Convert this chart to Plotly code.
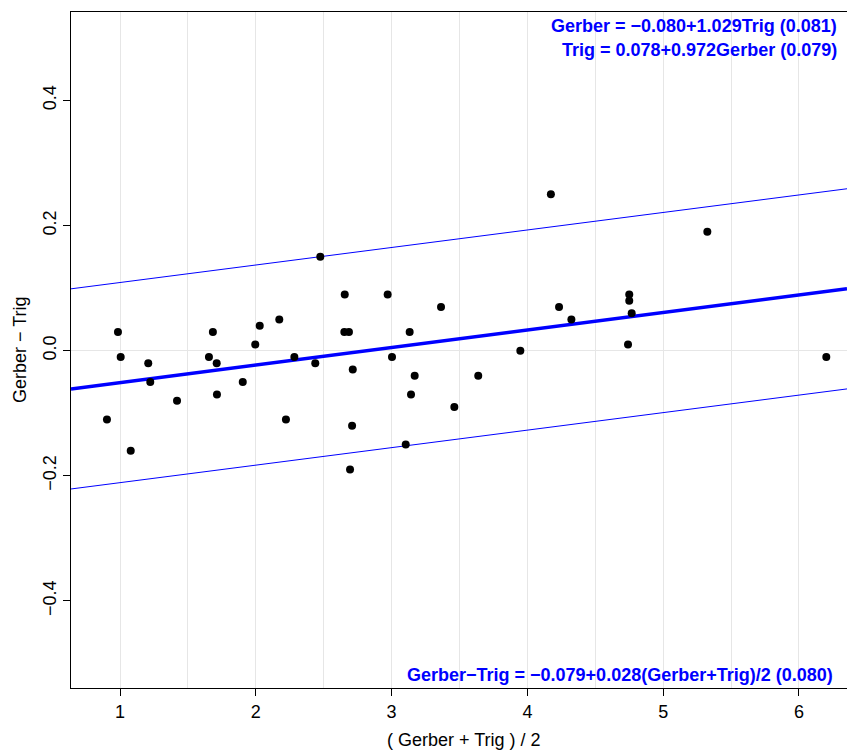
import plotly.graph_objects as go

# Mean of methods (x) and difference (y)
mean_vals = [0.904, 0.985, 1.005, 1.079, 1.208, 1.223, 1.420, 1.655, 1.684, 1.712,
             1.714, 1.904, 1.996, 2.029, 2.173, 2.222, 2.284, 2.438, 2.475, 2.655,
             2.652, 2.686, 2.694, 2.714, 2.709, 2.971, 3.003, 3.104, 3.133, 3.143,
             3.170, 3.364, 3.462, 3.638, 3.948, 4.173, 4.233, 4.324, 4.741, 4.750,
             4.750, 4.768, 5.325, 6.201]
diff_vals = [-0.11, 0.03, -0.01, -0.16, -0.02, -0.05, -0.08, -0.01, 0.03, -0.02,
             -0.07, -0.05, 0.01, 0.04, 0.05, -0.11, -0.01, -0.02, 0.15, 0.09,
             0.03, 0.03, -0.19, -0.03, -0.12, 0.09, -0.01, -0.15, 0.03, -0.07,
             -0.04, 0.07, -0.09, -0.04, 0.00, 0.25, 0.07, 0.05, 0.01, 0.09,
             0.08, 0.06, 0.19, -0.01]

intercept = -0.079
slope = 0.028
resid_sd = 0.080

x_range = [0.6392, 6.3535]
y_range = [-0.5393, 0.5415]
x_ticks = [1, 2, 3, 4, 5, 6]
y_ticks = [-0.4, -0.2, 0.0, 0.2, 0.4]
y_tick_text = ["\u22120.4", "\u22120.2", "0.0", "0.2", "0.4"]

eq_top1 = "Gerber = \u22120.080+1.029Trig (0.081)"
eq_top2 = "Trig = 0.078+0.972Gerber (0.079)"
eq_bottom = "Gerber\u2212Trig = \u22120.079+0.028(Gerber+Trig)/2 (0.080)"

BLUE = "#0000FF"
FONT = "Liberation Sans, Arial, sans-serif"

lx = x_range
ly = [intercept + slope * v for v in lx]

fig = go.Figure()
fig.add_trace(go.Scatter(x=lx, y=[v + 2 * resid_sd for v in ly], mode="lines",
                         line=dict(color=BLUE, width=1), hoverinfo="skip"))
fig.add_trace(go.Scatter(x=lx, y=[v - 2 * resid_sd for v in ly], mode="lines",
                         line=dict(color=BLUE, width=1), hoverinfo="skip"))
fig.add_trace(go.Scatter(x=lx, y=ly, mode="lines",
                         line=dict(color=BLUE, width=3.5), hoverinfo="skip"))
fig.add_trace(go.Scatter(x=mean_vals, y=diff_vals, mode="markers",
                         marker=dict(color="black", size=8)))

fig.update_layout(
    width=847, height=751,
    margin=dict(l=71, r=0, t=12, b=63),
    paper_bgcolor="white", plot_bgcolor="white",
    showlegend=False,
    font=dict(family=FONT, size=18, color="black"),
    xaxis=dict(range=x_range, tickvals=x_ticks, ticks="outside", ticklen=7,
               tickcolor="black", showline=True, linecolor="black", linewidth=1.3,
               mirror=True, showgrid=True, gridcolor="#e6e6e6", gridwidth=1,
               minor=dict(dtick=0.5, tick0=0, showgrid=True, gridcolor="#e6e6e6", ticks=""),
               zeroline=False, tickfont=dict(size=18)),
    yaxis=dict(range=y_range, tickvals=y_ticks, ticktext=y_tick_text, tickangle=-90,
               ticks="outside", ticklen=7, tickcolor="black", showline=True,
               linecolor="black", linewidth=1.3, showgrid=False,
               zeroline=True, zerolinecolor="#e6e6e6", zerolinewidth=1,
               tickfont=dict(size=18)),
)

fig.add_annotation(text=eq_top1, xref="paper", yref="paper", x=(839 - 71) / 776,
                   y=(751 - 63 - 26) / 676, xanchor="right", yanchor="middle",
                   showarrow=False, font=dict(color=BLUE, size=18, family=FONT),
                   )
fig.add_annotation(text=eq_top2, xref="paper", yref="paper", x=(839 - 71) / 776,
                   y=(751 - 63 - 50) / 676, xanchor="right", yanchor="middle",
                   showarrow=False, font=dict(color=BLUE, size=18, family=FONT))
fig.add_annotation(text=eq_bottom, xref="paper", yref="paper", x=(835 - 71) / 776,
                   y=(688 - 675) / 676, xanchor="right", yanchor="middle",
                   showarrow=False, font=dict(color=BLUE, size=18, family=FONT))
fig.add_annotation(text="( Gerber + Trig ) / 2", xref="paper", yref="paper",
                   x=(463.5 - 71) / 776, y=-(740 - 688) / 676, xanchor="center",
                   yanchor="middle", showarrow=False, font=dict(size=18, family=FONT))
fig.add_annotation(text="Gerber \u2212 Trig", xref="paper", yref="paper",
                   x=(20 - 71) / 776, y=(688 - 350) / 676, xanchor="center",
                   yanchor="middle", textangle=-90, showarrow=False,
                   font=dict(size=18, family=FONT))

for a in fig.layout.annotations:
    if a.font.color == BLUE:
        a.text = "<b>" + a.text + "</b>"

fig.write_html("out.html")
